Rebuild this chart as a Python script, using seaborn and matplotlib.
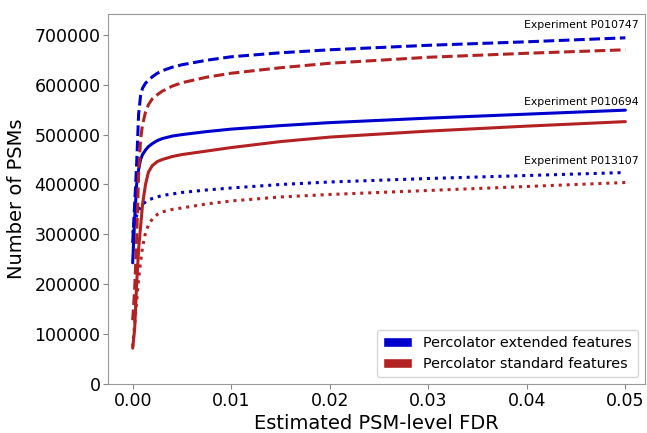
import matplotlib
matplotlib.use("Agg")
import matplotlib.pyplot as plt
from matplotlib.patches import Patch
import seaborn as sns
import pandas as pd

# FDR grid shared by all curves
fdr = [0, 0.0002, 0.0004, 0.0006, 0.0008, 0.001, 0.0013, 0.0016, 0.002, 0.0025,
       0.003, 0.004, 0.005, 0.0075, 0.01, 0.015, 0.02, 0.03, 0.04, 0.05]

# PSM counts
ext_p010747 = [283000, 360000, 440000, 540000, 578000, 593000, 603000, 609000, 616000, 623000,
               628000, 635000, 640000, 649000, 656000, 664000, 670000, 679000, 686000, 694000]
std_p010747 = [128000, 190000, 290000, 420000, 490000, 520000, 545000, 560000, 572000, 580000,
               587000, 597000, 604000, 615000, 623000, 634000, 643000, 655000, 663000, 670000]
ext_p010694 = [243000, 330000, 400000, 430000, 450000, 460000, 469000, 476000, 482000, 488000,
               492000, 497000, 500000, 506000, 511000, 518000, 524000, 533000, 541000, 549000]
std_p010694 = [72000, 110000, 200000, 270000, 315000, 360000, 400000, 425000, 438000, 446000,
               450000, 456000, 460000, 467000, 474000, 486000, 495000, 507000, 517000, 526000]
ext_p013107 = [303000, 320000, 338000, 348000, 355000, 360000, 365000, 369000, 372000, 375000,
               378000, 381000, 384000, 389000, 393000, 400000, 405000, 412000, 418000, 424000]
std_p013107 = [75000, 120000, 165000, 210000, 245000, 275000, 303000, 319000, 331000, 340000,
               345000, 350000, 353000, 361000, 367000, 375000, 380000, 388000, 396000, 404000]

experiments = ["Experiment P010747", "Experiment P010694", "Experiment P013107"]
methods = ["Percolator extended features", "Percolator standard features"]

series = {
    (methods[0], experiments[0]): ext_p010747,
    (methods[1], experiments[0]): std_p010747,
    (methods[0], experiments[1]): ext_p010694,
    (methods[1], experiments[1]): std_p010694,
    (methods[0], experiments[2]): ext_p013107,
    (methods[1], experiments[2]): std_p013107,
}

rows = []
for (m, e), vals in series.items():
    for x, y in zip(fdr, vals):
        rows.append({"fdr": x, "psms": y, "method": m, "experiment": e})
df = pd.DataFrame(rows)

colors = {methods[0]: "#0000cd", methods[1]: "#b22222"}
dashes = {experiments[0]: (3.5, 1.5), experiments[1]: "", experiments[2]: (1, 1.6)}

sns.set_style("ticks", rc={"text.color": "black", "axes.labelcolor": "black",
                           "xtick.color": "#888888", "ytick.color": "#888888",
                           "axes.edgecolor": "#999999"})
fig = plt.figure(figsize=(6.47, 4.33), dpi=100)
ax = fig.add_axes([0.167, 0.113, 0.83, 0.855])

sns.lineplot(data=df, x="fdr", y="psms", hue="method", style="experiment",
             palette=colors, dashes=dashes, linewidth=2.2, ax=ax, legend=False)

ax.set_xlim(-0.0025, 0.052)
ax.set_ylim(0, 742000)
ax.set_xticks([0, 0.01, 0.02, 0.03, 0.04, 0.05])
ax.set_xticklabels(["0.00", "0.01", "0.02", "0.03", "0.04", "0.05"])
ax.set_yticks(range(0, 700001, 100000))
ax.tick_params(labelsize=12.5, labelcolor="black", length=3.5, pad=2)
ax.set_xlabel("Estimated PSM-level FDR", fontsize=14, labelpad=3)
ax.set_ylabel("Number of PSMs", fontsize=14, labelpad=6)

# experiment labels at the curve ends
label_y = [720000, 566000, 448000]
for e, y in zip(experiments, label_y):
    ax.text(0.0513, y, e, ha="right", va="center", fontsize=7.8, color="black")

handles = [Patch(facecolor=colors[m], label=m) for m in methods]
ax.legend(handles=handles, loc="lower right", fontsize=10.4)

fig.savefig("out.png", dpi=100)
